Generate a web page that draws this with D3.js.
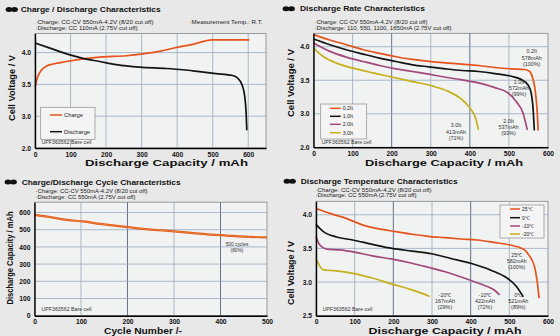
<!DOCTYPE html>
<html>
<head>
<meta charset="utf-8">
<script src="https://cdn.jsdelivr.net/npm/d3@7"></script>
<style>
body { margin: 0; background: #e8e8e8; }
svg { display: block; font-family: "Liberation Sans", Arial, sans-serif; }
</style>
</head>
<body>
<svg id="chart" width="560" height="336"></svg>
<script>
// ---- charge / discharge (top left)
const chargeCap  = [0, 6.5, 18.7, 33, 51, 89, 135, 182, 257, 304, 350, 397, 444, 498, 603];
const chargeVolt = [3.46, 3.60, 3.73, 3.79, 3.82, 3.86, 3.90, 3.93, 3.95, 3.98, 4.02, 4.08, 4.13, 4.20, 4.20];
const dischCap   = [0, 42, 89, 135, 182, 229, 294, 369, 416, 463, 509, 556, 570, 582, 590, 594, 596];
const dischVolt  = [4.15, 4.07, 3.98, 3.91, 3.86, 3.81, 3.77, 3.75, 3.73, 3.70, 3.67, 3.64, 3.60, 3.50, 3.32, 3.06, 2.78];

// ---- discharge rate (top right)
const rate02Cap  = [0, 42, 84, 127, 169, 211, 253, 295, 338, 380, 422, 464, 506, 540, 553, 561, 567, 572, 575];
const rate02Volt = [4.18, 4.10, 4.03, 3.955, 3.90, 3.85, 3.81, 3.78, 3.76, 3.74, 3.72, 3.69, 3.67, 3.66, 3.63, 3.53, 3.36, 3.06, 2.75];
const rate10Cap  = [0, 42, 84, 127, 169, 211, 253, 295, 338, 380, 422, 464, 506, 532, 549, 557, 562, 565];
const rate10Volt = [4.115, 4.03, 3.955, 3.89, 3.83, 3.78, 3.73, 3.70, 3.67, 3.645, 3.63, 3.60, 3.56, 3.51, 3.43, 3.31, 3.06, 2.75];
const rate20Cap  = [0, 42, 84, 127, 169, 211, 253, 295, 338, 380, 422, 464, 498, 519, 536, 547];
const rate20Volt = [4.055, 3.93, 3.845, 3.78, 3.72, 3.67, 3.63, 3.59, 3.545, 3.505, 3.46, 3.39, 3.31, 3.18, 3.01, 2.76];
const rate30Cap  = [0, 25, 59, 101, 152, 203, 253, 304, 346, 376, 401, 415, 422];
const rate30Volt = [3.98, 3.855, 3.755, 3.68, 3.61, 3.545, 3.48, 3.415, 3.33, 3.23, 3.08, 2.93, 2.76];

// ---- cycle life (bottom left)
const cycleNum = [0, 34, 70, 105, 141, 177, 201, 234, 270, 306, 342, 378, 414, 449, 500];
const cycleCap = [586, 573, 557, 548, 534, 522, 515, 505, 497, 489, 480, 472, 466, 460, 456];

// ---- discharge temperature (bottom right)
const t25Cap   = [0, 36, 78, 120, 163, 205, 248, 290, 332, 375, 417, 460, 502, 536, 553, 566, 572, 577];
const t25Volt  = [4.094, 4.02, 3.946, 3.85, 3.79, 3.75, 3.71, 3.68, 3.66, 3.64, 3.625, 3.59, 3.55, 3.49, 3.38, 3.21, 3.01, 2.76];
const t0Cap    = [0, 19, 53, 95, 146, 197, 248, 299, 349, 400, 451, 494, 519, 536];
const t0Volt   = [3.857, 3.75, 3.67, 3.625, 3.56, 3.50, 3.46, 3.42, 3.35, 3.28, 3.18, 3.06, 2.93, 2.78];
const tm10Cap  = [0, 10, 27, 61, 103, 146, 197, 248, 290, 332, 383, 426, 460, 475];
const tm10Volt = [3.674, 3.55, 3.49, 3.477, 3.44, 3.39, 3.34, 3.28, 3.22, 3.156, 3.06, 2.97, 2.885, 2.81];
const tm20Cap  = [0, 8.5, 19, 53, 95, 146, 197, 239, 273, 294];
const tm20Volt = [3.35, 3.25, 3.18, 3.166, 3.13, 3.06, 2.97, 2.90, 2.835, 2.786];

// ---- ticks
const voltTicks       = [2.5, 3.0, 3.5, 4.0];
const voltLabelsOdd   = ["2.0", "3.0", "3.5", "4.0"];   // bottom printed as 2.0 in the sheet
const voltLabels      = ["2.5", "3.0", "3.5", "4.0"];
const capTicks        = [0, 100, 200, 300, 400, 500, 600];
const cycleTicks      = [0, 100, 200, 300, 400, 500];
const cycleCapTicks   = [0, 100, 200, 300, 400, 500, 600];

// ---- legend / note labels
const p1Legend = ["Charge", "Discharge"];
const p2Legend = ["0.2It", "1.0It", "2.0It", "3.0It"];
const p4Legend = ["25\u2103", "0\u2103", "-10\u2103", "-20\u2103"];
const p2Notes = [["0.2It", "578mAh", "(100%)"], ["1.0It", "572mAh", "(99%)"], ["2.0It", "537mAh", "(93%)"], ["3.0It", "413mAh", "(71%)"]];
const p4Notes = [["25\u2103", "582mAh", "(100%)"], ["-20\u2103", "167mAh", "(29%)"], ["-10\u2103", "422mAh", "(72%)"], ["0\u2103", "521mAh", "(89%)"]];
const p3Notes = [["500 cycles", "(80%)"]];

const ORANGE = "#e6531b", BLACK = "#141414", PURPLE = "#a3487a", YELLOW = "#c6b01c";

class CurvePanel {

    constructor(svg, o) {
        this.svg = svg;
        this.o = o;
    }

    draw() {
        const o = this.o;
        const g = this.svg.append('g');
        const x = d3.scaleLinear().domain(o.xDomain).range(o.xRange);
        const y = d3.scaleLinear().domain(o.yDomain).range(o.yRange);

        g.append('rect')
            .attr('x', o.xRange[0]).attr('y', o.yRange[1])
            .attr('width', o.xRange[1] - o.xRange[0])
            .attr('height', o.yRange[0] - o.yRange[1])
            .attr('fill', '#f1f2f2')
            .attr('stroke', '#858585').attr('stroke-width', 0.8);

        g.selectAll('.vg').data(o.gridX).join('line')
            .attr('x1', d => x(d)).attr('x2', d => x(d))
            .attr('y1', o.yRange[0]).attr('y2', o.yRange[1])
            .attr('stroke', d => o.darkX.includes(d) ? '#4f6585' : '#97abc0')
            .attr('stroke-width', d => o.darkX.includes(d) ? 0.9 : 0.8);

        g.selectAll('.hg').data(o.gridY).join('line')
            .attr('y1', d => y(d)).attr('y2', d => y(d))
            .attr('x1', o.xRange[0]).attr('x2', o.xRange[1])
            .attr('stroke', '#97abc0').attr('stroke-width', 0.8);

        const line = d3.line().x(d => x(d[0])).y(d => y(d[1])).curve(d3.curveMonotoneX);
        o.series.forEach(s => {
            const pts = d3.zip(s.xs, s.ys);
            g.append('path').attr('d', line(pts))
                .attr('fill', 'none').attr('stroke', s.color)
                .attr('stroke-width', s.width || 1.7)
                .attr('stroke-linejoin', 'round');
            if (s.inner) {
                g.append('path').attr('d', line(pts))
                    .attr('fill', 'none').attr('stroke', s.inner)
                    .attr('stroke-width', 0.6);
            }
        });

        const xAxis = g.append('g')
            .attr('transform', `translate(0,${o.yRange[0]})`)
            .call(d3.axisBottom(x).tickValues(o.xTicks).tickSize(0).tickSizeOuter(0).tickPadding(4));
        const yAxis = g.append('g')
            .attr('transform', `translate(${o.xRange[0]},0)`)
            .call(d3.axisLeft(y).tickValues(o.yTicks).tickFormat((d, i) => o.yLabels[i])
                .tickSize(0).tickSizeOuter(0).tickPadding(4));
        [xAxis, yAxis].forEach(a => {
            a.select('.domain').attr('stroke', '#000').attr('stroke-width', 1.4);
            a.selectAll('text').attr('font-size', '6.7px').attr('font-weight', 'bold')
                .attr('fill', '#111').attr('font-family', '"Liberation Sans", Arial, sans-serif');
        });

        // header
        g.append('ellipse').attr('cx', o.bullet[0]).attr('cy', o.bullet[1]).attr('rx', 3.4).attr('ry', 2.5).attr('fill', '#111');
        g.append('ellipse').attr('cx', o.bullet[0] + 5.5).attr('cy', o.bullet[1]).attr('rx', 3.4).attr('ry', 2.5).attr('fill', '#111');
        g.append('text').attr('x', o.title[1]).attr('y', o.title[2])
            .attr('font-size', '7.2px').attr('font-weight', 'bold').attr('fill', '#111')
            .attr('textLength', o.title[3]).attr('lengthAdjust', 'spacingAndGlyphs')
            .text(o.title[0]);
        o.notes.forEach(n => {
            g.append('text').attr('x', n[1]).attr('y', n[2])
                .attr('font-size', '5.3px').attr('fill', '#222')
                .attr('textLength', n[3]).attr('lengthAdjust', 'spacingAndGlyphs')
                .text(n[0]);
        });
        g.append('text').attr('x', o.cell[0]).attr('y', o.cell[1])
            .attr('font-size', '4.6px').attr('fill', '#333')
            .attr('textLength', 50).attr('lengthAdjust', 'spacingAndGlyphs')
            .text('UPF363562 Bare cell');

        g.append('text').attr('x', o.xLabel[1]).attr('y', o.xLabel[2])
            .attr('text-anchor', 'middle').attr('font-size', '9.5px').attr('font-weight', 'bold')
            .attr('fill', '#111').attr('textLength', o.xLabel[3]).attr('lengthAdjust', 'spacingAndGlyphs')
            .text(o.xLabel[0]);
        g.append('text')
            .attr('transform', `translate(${o.yLabel[1]},${o.yLabel[2]}) rotate(-90)`)
            .attr('text-anchor', 'middle').attr('font-size', '8.5px').attr('font-weight', 'bold')
            .attr('fill', '#111').attr('textLength', o.yLabel[3]).attr('lengthAdjust', 'spacingAndGlyphs')
            .text(o.yLabel[0]);

        if (o.legend) {
            const L = o.legend;
            g.append('rect').attr('x', L.box[0]).attr('y', L.box[1])
                .attr('width', L.box[2]).attr('height', L.box[3])
                .attr('fill', '#f4f4f4').attr('stroke', '#8d8d8d').attr('stroke-width', 0.7);
            L.labels.forEach((t, i) => {
                g.append('line').attr('x1', L.lx[0]).attr('x2', L.lx[1])
                    .attr('y1', L.rows[i]).attr('y2', L.rows[i])
                    .attr('stroke', o.series[i].color).attr('stroke-width', 1.5);
                g.append('text').attr('x', L.lx[1] + 2).attr('y', L.rows[i] + 1.8)
                    .attr('font-size', L.size + 'px').attr('fill', '#222').text(t);
            });
        }

        (o.ann || []).forEach(a => {
            a.lines.forEach((t, i) => {
                g.append('text').attr('x', a.x).attr('y', a.y + i * 6.4)
                    .attr('text-anchor', 'middle').attr('font-size', (a.size || 5.4) + 'px')
                    .attr('fill', '#333').text(t);
            });
        });
    }
}

const svg = d3.select('#chart');

new CurvePanel(svg, {
    xDomain: [0, 650], xRange: [35, 266], yDomain: [2.5, 4.3], yRange: [148, 33.5],
    xTicks: capTicks, yTicks: voltTicks, yLabels: voltLabelsOdd,
    gridX: [100, 200, 300, 400, 500, 600], darkX: [], gridY: [3.0, 3.5, 4.0],
    series: [
        {xs: chargeCap, ys: chargeVolt, color: ORANGE},
        {xs: dischCap, ys: dischVolt, color: BLACK}
    ],
    bullet: [9, 9.6],
    title: ["Charge / Discharge Characteristics", 20.7, 12, 140],
    notes: [["\u00b7Charge: CC-CV 550mA-4.2V (8/20 cut off)", 35.5, 24, 118],
            ["\u00b7Discharge: CC 110mA (2.75V cut off)", 35.5, 30, 102],
            ["\u00b7Measurement Temp.: R.T.", 189.5, 24, 73]],
    cell: [41.5, 144],
    xLabel: ["Discharge Capacity / mAh", 166.5, 166, 163],
    yLabel: ["Cell Voltage / V", 14.5, 88, 66],
    legend: {box: [40.7, 107.3, 54.3, 32], rows: [115, 131.7], lx: [50, 62], labels: p1Legend, size: 5.8}
}).draw();

new CurvePanel(svg, {
    xDomain: [0, 600], xRange: [313.5, 548], yDomain: [2.5, 4.2], yRange: [147.3, 33.3],
    xTicks: capTicks, yTicks: voltTicks, yLabels: voltLabelsOdd,
    gridX: [100, 200, 300, 400, 500], darkX: [200, 400], gridY: [3.0, 3.5, 4.0],
    series: [
        {xs: rate02Cap, ys: rate02Volt, color: ORANGE},
        {xs: rate10Cap, ys: rate10Volt, color: BLACK},
        {xs: rate20Cap, ys: rate20Volt, color: PURPLE},
        {xs: rate30Cap, ys: rate30Volt, color: YELLOW}
    ],
    bullet: [286, 8.7],
    title: ["Discharge Rate Characteristics", 300, 11, 125],
    notes: [["\u00b7Charge: CC-CV 550mA-4.2V (8/20 cut off)", 314.5, 23.5, 113],
            ["\u00b7Discharge: 110, 550, 1100, 1650mA (2.75V cut off)", 314.5, 30, 137]],
    cell: [321.5, 143.5],
    xLabel: ["Discharge Capacity / mAh", 444, 166, 158],
    yLabel: ["Cell Voltage / V", 293.5, 83, 68],
    legend: {box: [320.7, 104, 46, 35], rows: [108.3, 116.3, 124.3, 132.7], lx: [330, 340.7], labels: p2Legend, size: 5.3},
    ann: [
        {x: 531.7, y: 53.3, lines: p2Notes[0]},
        {x: 519, y: 83.5, lines: p2Notes[1]},
        {x: 508.5, y: 122.5, lines: p2Notes[2]},
        {x: 456, y: 127.3, lines: p2Notes[3]}
    ]
}).draw();

new CurvePanel(svg, {
    xDomain: [0, 500], xRange: [34.5, 267], yDomain: [0, 660], yRange: [315.7, 202.2],
    xTicks: cycleTicks, yTicks: cycleCapTicks, yLabels: cycleCapTicks.map(String),
    gridX: [100, 200, 300, 400], darkX: [200, 400], gridY: [100, 200, 300, 400, 500, 600],
    series: [
        {xs: cycleNum, ys: cycleCap, color: "#e2541c", width: 2.2, inner: "#eb9a3c"}
    ],
    bullet: [8, 182],
    title: ["Charge/Discharge Cycle Characteristics", 21.7, 184.5, 159],
    notes: [["\u00b7Charge: CC-CV 550mA-4.2V (8/20 cut off)", 35.5, 193, 112],
            ["\u00b7Discharge: CC 550mA (2.75V cut off)", 35.5, 198.8, 100]],
    cell: [41.5, 311],
    xLabel: ["Cycle Number /-", 143, 334, 78],
    yLabel: ["Discharge Capacity / mAh", 13, 258, 93],
    ann: [{x: 237, y: 245.5, lines: p3Notes[0], size: 4.8}]
}).draw();

new CurvePanel(svg, {
    xDomain: [0, 600], xRange: [316, 548], yDomain: [2.5, 4.2], yRange: [315.7, 201.3],
    xTicks: capTicks, yTicks: voltTicks, yLabels: voltLabels,
    gridX: [100, 200, 300, 400, 500], darkX: [200, 400], gridY: [3.0, 3.5, 4.0],
    series: [
        {xs: t25Cap, ys: t25Volt, color: ORANGE},
        {xs: t0Cap, ys: t0Volt, color: BLACK},
        {xs: tm10Cap, ys: tm10Volt, color: PURPLE},
        {xs: tm20Cap, ys: tm20Volt, color: YELLOW}
    ],
    bullet: [287, 181.3],
    title: ["Discharge Temperature Characteristics", 300.7, 184, 157],
    notes: [["\u00b7Charge: CC-CV 550mA-4.2V (8/20 cut off)", 315.5, 191.5, 116],
            ["\u00b7Discharge: CC 550mA (2.75V cut off)", 315.5, 197.2, 101]],
    cell: [322.5, 310.5],
    xLabel: ["Discharge Capacity / mAh", 445, 333.5, 153],
    yLabel: ["Cell Voltage / V", 293.5, 273, 64],
    legend: {box: [500, 205, 44, 33], rows: [209, 217.7, 226, 234], lx: [510, 520], labels: p4Legend, size: 5},
    ann: [
        {x: 516.7, y: 256.5, lines: p4Notes[0]},
        {x: 445, y: 296.5, lines: p4Notes[1]},
        {x: 485, y: 296.5, lines: p4Notes[2]},
        {x: 518.3, y: 296.5, lines: p4Notes[3]}
    ]
}).draw();
</script>
</body>
</html>
